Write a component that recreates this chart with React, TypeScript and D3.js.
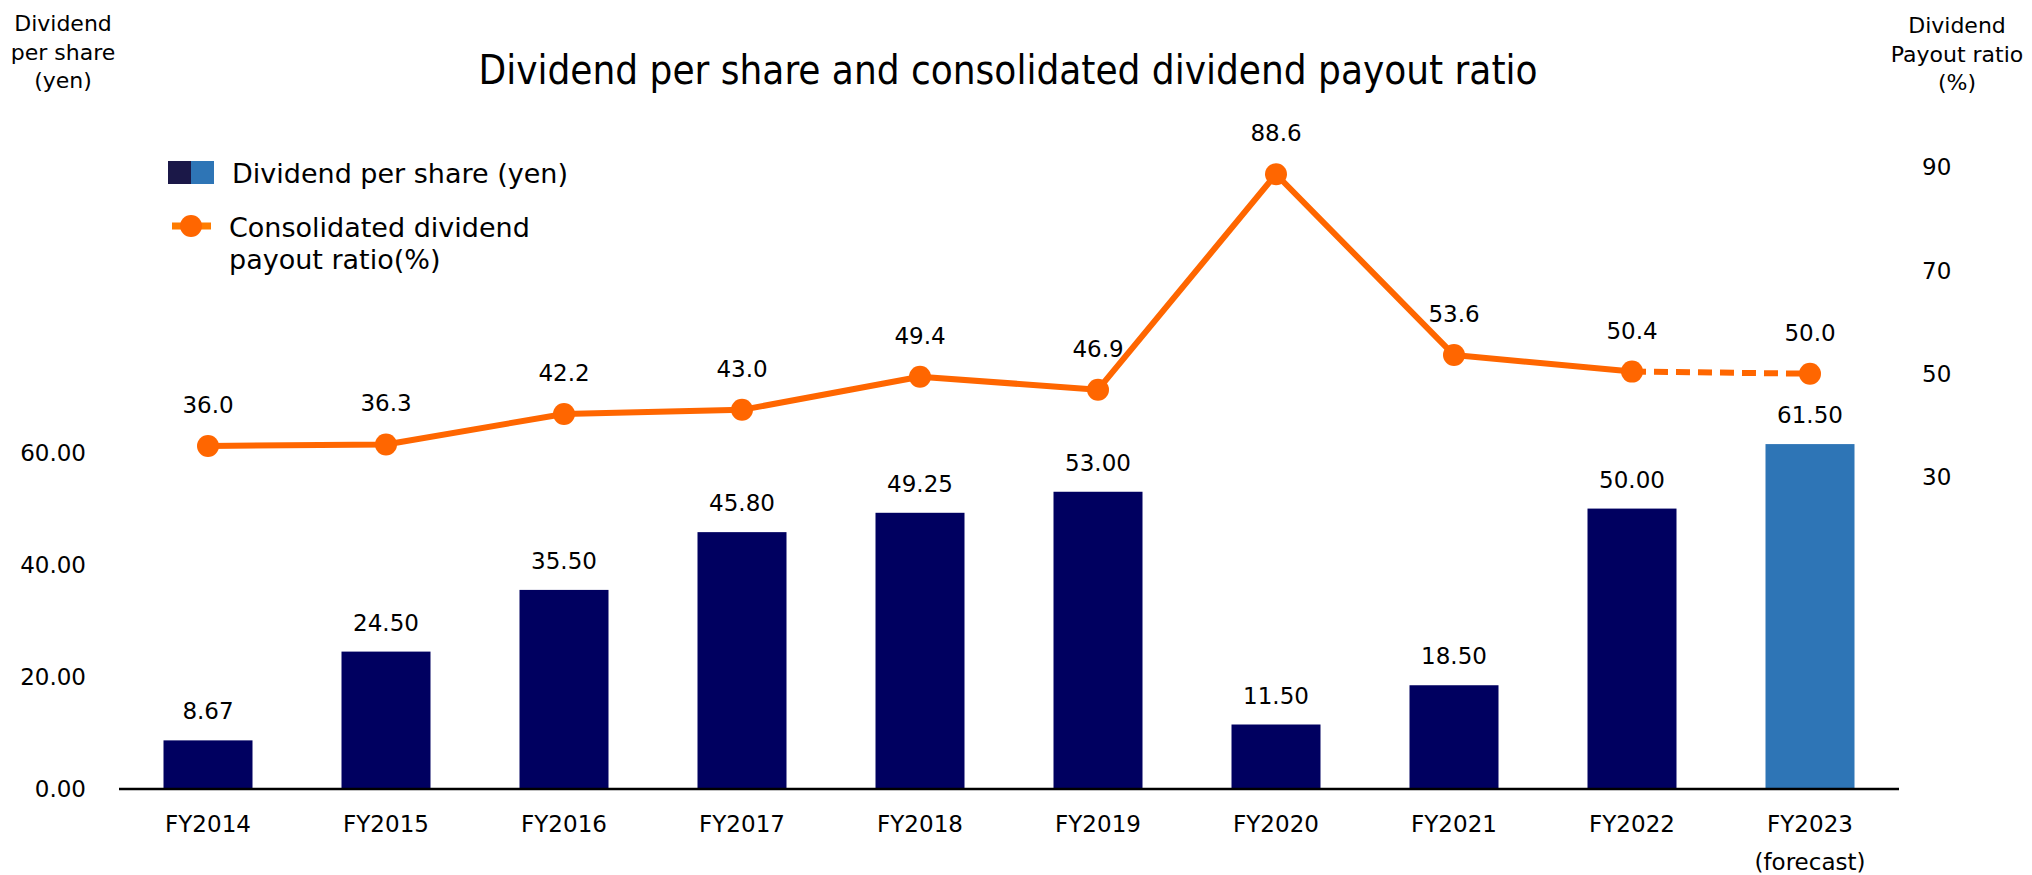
import * as d3 from "d3";

const categories = ["FY2014", "FY2015", "FY2016", "FY2017", "FY2018", "FY2019", "FY2020", "FY2021", "FY2022", "FY2023"];
const dividendPerShare = [8.67, 24.5, 35.5, 45.8, 49.25, 53.0, 11.5, 18.5, 50.0, 61.5];
const payoutRatio = [36.0, 36.3, 42.2, 43.0, 49.4, 46.9, 88.6, 53.6, 50.4, 50.0];
const isForecast = [false, false, false, false, false, false, false, false, false, true];
const leftTicks = [0, 20, 40, 60];
const rightTicks = [30, 50, 70, 90];

const W = 2032;
const H = 875;
const FONT = "'DejaVu Sans', Verdana, sans-serif";
const ORANGE = "#ff6600";
const NAVY = "#000060";
const BLUE = "#2e75b6";

export default function App() {
  const x = d3.scaleBand<string>().domain(categories).range([119, 1899]).paddingInner(0.5).paddingOuter(0.25);
  const yLeft = d3.scaleLinear().domain([0, 60]).range([789, 452.5]);
  const yRight = d3.scaleLinear().domain([30, 90]).range([477, 167]);
  const cx = (i: number) => (x(categories[i]) as number) + x.bandwidth() / 2;

  const pts: [number, number][] = payoutRatio.map((v, i) => [cx(i), yRight(v)]);
  const line = d3.line();
  const firstForecast = isForecast.indexOf(true);
  const solid = line(pts.slice(0, firstForecast)) || "";
  const dashed = line(pts.slice(firstForecast - 1)) || "";

  return (
    <svg width={W} height={H} style={{ position: "absolute", left: 0, top: 0, background: "#fff" }} fontFamily={FONT}>
      {/* title */}
      <text x={1008} y={84} textAnchor="middle" fontSize={40} fontFamily="'DejaVu Sans Condensed', 'DejaVu Sans', sans-serif" fill="#000">
        Dividend per share and consolidated dividend payout ratio
      </text>

      {/* axis titles */}
      <g fontSize={22} fill="#000" textAnchor="middle">
        <text x={63} y={31}>Dividend</text>
        <text x={63} y={59.5}>per share</text>
        <text x={63} y={88}>(yen)</text>
        <text x={1957} y={33}>Dividend</text>
        <text x={1957} y={62}>Payout ratio</text>
        <text x={1957} y={90}>(%)</text>
      </g>

      {/* legend */}
      <rect x={168} y={161} width={23} height={23} fill="#1b1848" />
      <rect x={191} y={161} width={23} height={23} fill={BLUE} />
      <text x={232} y={183} fontSize={27} fill="#000">Dividend per share (yen)</text>
      <line x1={172} x2={211} y1={226} y2={226} stroke="#ff7c00" strokeWidth={7} />
      <circle cx={191} cy={226} r={11} fill={ORANGE} />
      <text x={229} y={237} fontSize={27} fill="#000">Consolidated dividend</text>
      <text x={229} y={269} fontSize={27} fill="#000">payout ratio(%)</text>

      {/* left ticks */}
      <g fontSize={23} fill="#000" textAnchor="end">
        {leftTicks.map((t) => (
          <text key={t} x={86} y={yLeft(t)} dy="0.36em">{t.toFixed(2)}</text>
        ))}
      </g>
      {/* right ticks */}
      <g fontSize={23} fill="#000" textAnchor="start">
        {rightTicks.map((t) => (
          <text key={t} x={1922} y={yRight(t)} dy="0.36em">{t}</text>
        ))}
      </g>

      {/* bars */}
      {dividendPerShare.map((v, i) => (
        <g key={categories[i]}>
          <rect
            x={x(categories[i])}
            y={yLeft(v)}
            width={x.bandwidth()}
            height={yLeft(0) - yLeft(v)}
            fill={isForecast[i] ? BLUE : NAVY}
          />
          <text x={cx(i)} y={yLeft(v) - 21} textAnchor="middle" fontSize={23} fill="#000">{v.toFixed(2)}</text>
        </g>
      ))}

      {/* baseline */}
      <line x1={119} x2={1899} y1={yLeft(0)} y2={yLeft(0)} stroke="#000" strokeWidth={2.5} />

      {/* x labels */}
      <g fontSize={23} fill="#000" textAnchor="middle">
        {categories.map((c, i) => (
          <g key={c}>
            <text x={cx(i)} y={832}>{c}</text>
            {isForecast[i] && <text x={cx(i)} y={870}>(forecast)</text>}
          </g>
        ))}
      </g>

      {/* payout ratio line */}
      <path d={solid} fill="none" stroke={ORANGE} strokeWidth={6} strokeLinejoin="round" />
      <path d={dashed} fill="none" stroke={ORANGE} strokeWidth={6} strokeDasharray="14 8" />
      {payoutRatio.map((v, i) => (
        <g key={"p" + i}>
          <circle cx={cx(i)} cy={yRight(v)} r={11} fill={ORANGE} />
          <text x={cx(i)} y={yRight(v) - 33} textAnchor="middle" fontSize={23} fill="#000">{v.toFixed(1)}</text>
        </g>
      ))}
    </svg>
  );
}
